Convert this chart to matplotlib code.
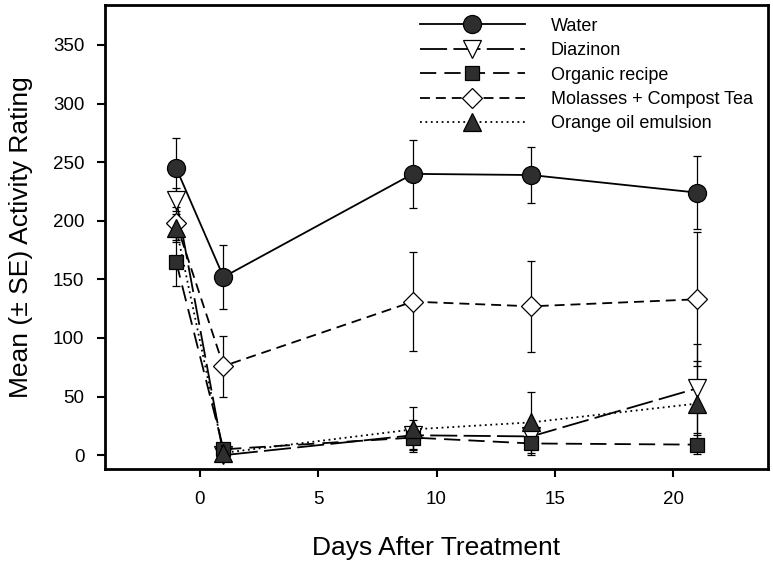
import matplotlib
matplotlib.use("Agg")
import matplotlib.pyplot as plt

plt.rcParams['font.family'] = ['Liberation Sans', 'DejaVu Sans']

days = [-1, 1, 9, 14, 21]
water = [245, 152, 240, 239, 224]
water_se = [26, 27, 29, 24, 31]
diazinon = [218, 0, 17, 16, 57]
diazinon_se = [10, 2, 13, 10, 38]
organic = [165, 5, 15, 10, 9]
organic_se = [21, 3, 10, 10, 8]
molasses = [198, 76, 131, 127, 133]
molasses_se = [14, 26, 42, 39, 57]
orange = [194, 2, 22, 28, 44]
orange_se = [12, 2, 19, 26, 36]

xticks = [0, 5, 10, 15, 20]
yticks = [0, 50, 100, 150, 200, 250, 300, 350]

fig = plt.figure(figsize=(7.73, 5.64), dpi=100)
ax = fig.add_axes([0.136, 0.168, 0.8575, 0.823])

dark = '#2e2e2e'
series = [
    ("Water", water, water_se, dict(ls='-', marker='o', ms=13, mfc=dark, mec='black')),
    ("Diazinon", diazinon, diazinon_se, dict(ls=(0, (15, 3.5)), marker='v', ms=12.5, mfc='white', mec='black')),
    ("Organic recipe", organic, organic_se, dict(ls=(0, (9, 4.5)), marker='s', ms=10.5, mfc=dark, mec='black')),
    ("Molasses + Compost Tea", molasses, molasses_se, dict(ls=(0, (5.5, 3.3)), marker='D', ms=10.5, mfc='white', mec='black')),
    ("Orange oil emulsion", orange, orange_se, dict(ls=(0, (1, 2)), marker='^', ms=12.5, mfc=dark, mec='black')),
]

handles = []
labels = []
for name, vals, se, st in series:
    c = ax.errorbar(days, vals, yerr=se, color='black', lw=1.3, elinewidth=0.9,
                    capsize=3, capthick=0.9, mew=0.9, **st)
    handles.append(c[0])
    labels.append(name)

ax.set_xlim(-4, 24)
ax.set_ylim(-12, 384)
ax.set_xticks(xticks)
ax.set_yticks(yticks)
ax.tick_params(direction='out', length=6, width=1.5, labelsize=13.5)
ax.tick_params(axis='x', pad=10)
ax.tick_params(axis='y', pad=9)
for sp in ax.spines.values():
    sp.set_linewidth(2)

ax.set_xlabel("Days After Treatment", fontsize=19, labelpad=20)
ax.set_ylabel("Mean (\u00b1 SE) Activity Rating", fontsize=19, labelpad=14)

leg = ax.legend(handles, labels, loc='upper left', bbox_to_anchor=(0.456, 1.0),
                frameon=False, fontsize=13, handlelength=5.8, handletextpad=1.45,
                labelspacing=0.41, borderaxespad=0.4, borderpad=0.3)

fig.savefig("out.png", dpi=100)
